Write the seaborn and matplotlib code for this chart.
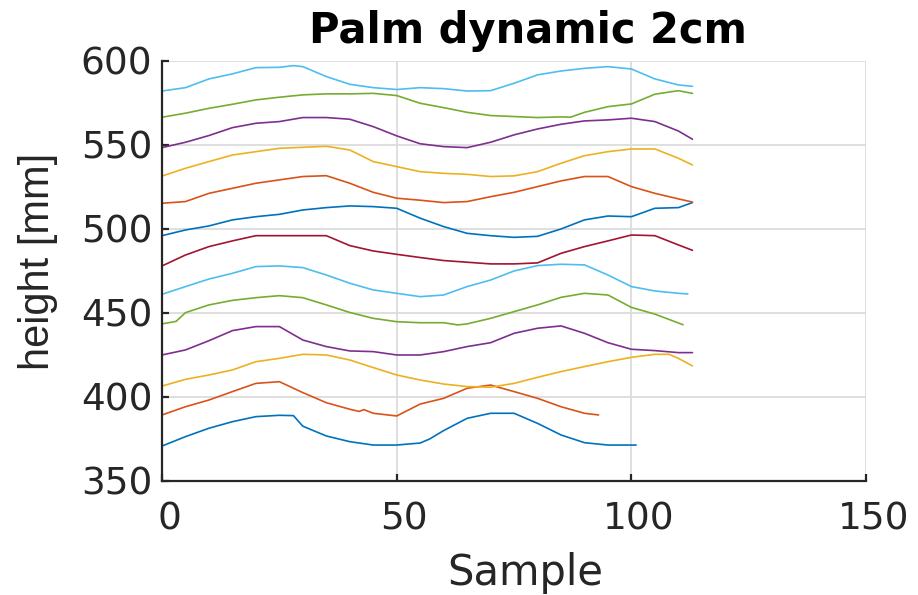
import pandas as pd
import matplotlib
matplotlib.use("Agg")
import matplotlib.pyplot as plt
from matplotlib import font_manager
from matplotlib.transforms import ScaledTranslation
import seaborn as sns

# traces, bottom to top (sample index, height in mm)
s01 = [0, 5, 10, 15, 20, 25, 28, 30, 35, 40, 45, 50, 55, 57, 60, 65, 70, 75, 80, 85, 90, 95, 101]
h01 = [370.8, 376.4, 381.4, 385.3, 388.3, 389.1, 388.9, 382.6, 376.8, 373.4, 371.4, 371.4, 372.6, 375.0,
       380.0, 387.3, 390.3, 390.3, 384.3, 377.4, 372.8, 371.4, 371.4]

s02 = [0, 5, 10, 15, 20, 25, 30, 35, 40, 42, 43, 45, 50, 55, 60, 65, 70, 75, 80, 85, 90, 93]
h02 = [389.3, 394.2, 398.2, 403.2, 408.1, 409.1, 402.6, 396.6, 392.7, 391.4, 392.5, 390.3, 388.7, 395.8,
       399.2, 405.2, 407.1, 403.2, 399.2, 394.2, 390.3, 389.3]

s03 = [0, 5, 10, 15, 20, 25, 30, 35, 40, 45, 50, 55, 60, 65, 70, 75, 80, 85, 90, 95, 100, 105, 108, 110, 113]
h03 = [406.5, 410.5, 413.1, 416.1, 421.0, 423.0, 425.4, 425.0, 422.0, 417.5, 413.1, 410.1, 407.7, 406.2,
       405.8, 408.1, 411.7, 415.1, 418.1, 421.0, 423.6, 425.4, 425.4, 423.0, 418.5]

s04 = [0, 5, 10, 15, 20, 25, 30, 35, 40, 45, 50, 55, 60, 65, 70, 75, 80, 85, 90, 95, 100, 105, 110, 113]
h04 = [425.0, 428.0, 433.5, 439.5, 441.9, 441.9, 433.9, 430.0, 427.4, 427.0, 425.0, 425.0, 427.0, 430.0,
       432.3, 437.9, 440.9, 442.3, 437.9, 432.3, 428.4, 427.6, 426.4, 426.4]

s05 = [0, 3, 5, 10, 15, 20, 25, 30, 35, 40, 45, 50, 55, 60, 63, 65, 70, 75, 80, 85, 90, 95, 100, 105, 111]
h05 = [443.5, 445.0, 450.2, 454.8, 457.5, 459.1, 460.3, 459.1, 454.8, 450.3, 446.8, 444.8, 444.2, 444.2,
       442.9, 443.5, 446.8, 450.8, 454.8, 459.3, 461.7, 460.7, 453.3, 449.3, 443.0]

s06 = [0, 5, 10, 15, 20, 25, 30, 35, 40, 45, 50, 55, 60, 65, 70, 75, 80, 85, 90, 95, 100, 105, 110, 112]
h06 = [461.1, 465.7, 470.2, 473.6, 477.6, 478.0, 477.0, 472.6, 467.7, 463.7, 461.7, 459.7, 460.7, 465.7,
       469.6, 475.0, 478.2, 479.0, 478.6, 472.6, 465.7, 463.1, 461.7, 461.3]

s07 = [0, 5, 10, 15, 20, 25, 30, 35, 40, 45, 50, 55, 60, 65, 70, 75, 80, 85, 90, 95, 100, 105, 110, 113]
h07 = [478.0, 484.5, 489.5, 492.9, 496.0, 496.0, 496.0, 496.0, 490.1, 486.9, 484.9, 483.0, 481.2, 480.2,
       479.2, 479.2, 479.8, 485.5, 489.5, 492.9, 496.4, 496.0, 490.5, 487.3]

s08 = [0, 5, 10, 15, 20, 25, 30, 35, 40, 45, 50, 55, 60, 65, 70, 75, 80, 85, 90, 95, 100, 105, 110, 113]
h08 = [496.0, 499.4, 501.8, 505.4, 507.3, 508.7, 511.3, 512.7, 513.7, 513.3, 512.3, 506.4, 501.4, 497.4,
       496.0, 495.0, 495.6, 500.0, 505.4, 507.7, 507.3, 512.3, 512.7, 515.7]

s09 = [0, 5, 10, 15, 20, 25, 30, 35, 40, 45, 50, 55, 60, 65, 70, 75, 80, 85, 90, 95, 100, 105, 110, 113]
h09 = [515.3, 516.3, 521.2, 524.2, 527.2, 529.2, 531.2, 531.7, 527.2, 521.8, 518.3, 517.1, 515.7, 516.3,
       519.2, 521.8, 525.2, 528.6, 531.2, 531.2, 525.2, 521.2, 517.9, 516.0]

s10 = [0, 5, 10, 15, 20, 25, 30, 35, 40, 45, 50, 55, 60, 65, 70, 75, 80, 85, 90, 95, 100, 105, 110, 113]
h10 = [531.5, 536.1, 540.1, 544.0, 546.0, 548.0, 548.6, 549.2, 547.0, 540.1, 537.1, 534.1, 533.1, 532.5,
       531.2, 531.6, 534.1, 539.1, 543.6, 546.0, 547.6, 547.6, 542.1, 538.1]

s11 = [0, 5, 10, 15, 20, 25, 30, 35, 40, 45, 50, 55, 60, 65, 70, 75, 80, 85, 90, 95, 100, 105, 110, 113]
h11 = [548.4, 551.6, 555.6, 560.3, 562.9, 563.9, 566.3, 566.3, 565.3, 560.9, 555.4, 550.7, 549.0, 548.4,
       551.6, 556.0, 559.5, 562.3, 564.3, 564.9, 565.9, 563.9, 558.3, 553.4]

s12 = [0, 5, 10, 15, 20, 25, 30, 35, 40, 45, 50, 55, 60, 65, 70, 75, 80, 85, 87, 90, 95, 100, 105, 110, 113]
h12 = [566.5, 568.9, 571.8, 574.2, 576.8, 578.4, 579.8, 580.4, 580.4, 580.7, 579.4, 574.8, 572.2, 569.4,
       567.5, 566.9, 566.3, 566.7, 566.5, 569.4, 572.8, 574.4, 580.2, 582.3, 580.7]

s13 = [0, 5, 10, 15, 20, 25, 28, 30, 35, 40, 45, 50, 55, 60, 65, 70, 75, 80, 85, 90, 95, 100, 105, 110, 113]
h13 = [582.1, 584.1, 589.3, 592.3, 596.0, 596.2, 597.2, 596.6, 590.7, 586.1, 584.1, 583.0, 584.1, 583.5,
       582.1, 582.3, 586.7, 591.7, 594.0, 595.6, 596.6, 595.2, 589.3, 585.7, 584.9]

samples = [s01, s02, s03, s04, s05, s06, s07, s08, s09, s10, s11, s12, s13]
heights = [h01, h02, h03, h04, h05, h06, h07, h08, h09, h10, h11, h12, h13]

x_ticks = [0, 50, 100, 150]
y_ticks = [350, 400, 450, 500, 550, 600]

# MATLAB default color order
matlab_colors = ['#0072BD', '#D95319', '#EDB120', '#7E2F8E', '#77AC30', '#4DBEEE', '#A2142F']

frames = []
for i, (s, h) in enumerate(zip(samples, heights)):
    frames.append(pd.DataFrame({'Sample': s, 'height': h, 'trace': i}))
df = pd.concat(frames, ignore_index=True)
palette = {i: matlab_colors[i % len(matlab_colors)] for i in range(len(samples))}

sns.set_style('white')
plt.rcParams['font.family'] = ['DejaVu Sans']

installed = {f.name for f in font_manager.fontManager.ttflist}
if 'Liberation Sans Narrow' in installed:
    ylab_font, ylab_size = 'Liberation Sans Narrow', 36
else:
    ylab_font, ylab_size = 'Liberation Sans', 30

fig = plt.figure(figsize=(9.18, 5.95), dpi=100)
ax = fig.add_axes([0.1765, 0.1916, 0.767, 0.706])

sns.lineplot(data=df, x='Sample', y='height', hue='trace', palette=palette,
             legend=False, linewidth=1.2, estimator=None, sort=False, ax=ax)

ax.set_xlim(0, 150)
ax.set_ylim(350, 600)
ax.set_xticks(x_ticks)
ax.set_yticks(y_ticks)
ax.grid(True, color='#DCDCDC', linewidth=1.3)
ax.set_axisbelow(True)

for side in ['top', 'right']:
    ax.spines[side].set_visible(False)
for side in ['left', 'bottom']:
    ax.spines[side].set_color('#262626')
    ax.spines[side].set_linewidth(1.6)

ax.tick_params(axis='both', direction='in', length=5, width=1.6, color='#262626',
               labelsize=27, labelcolor='#262626', left=True, bottom=True)
ax.tick_params(axis='y', pad=7)
ax.tick_params(axis='x', pad=15)
# stretched look of the original: x tick labels sit a bit right of their ticks
shift = ScaledTranslation(7 / 100, 0, fig.dpi_scale_trans)
for lbl in ax.get_xticklabels():
    lbl.set_transform(lbl.get_transform() + shift)

ax.set_xlabel('Sample', fontsize=30, color='#262626')
ax.xaxis.set_label_coords(0.516, -0.17)
ax.set_ylabel('height [mm]', fontsize=ylab_size, color='#262626', family=ylab_font)
ax.yaxis.set_label_coords(-0.148, 0.524)
ax.set_title('Palm dynamic 2cm', fontsize=30, fontweight='bold', color='black', pad=13, x=0.52)

fig.savefig('out.png', dpi=100)
